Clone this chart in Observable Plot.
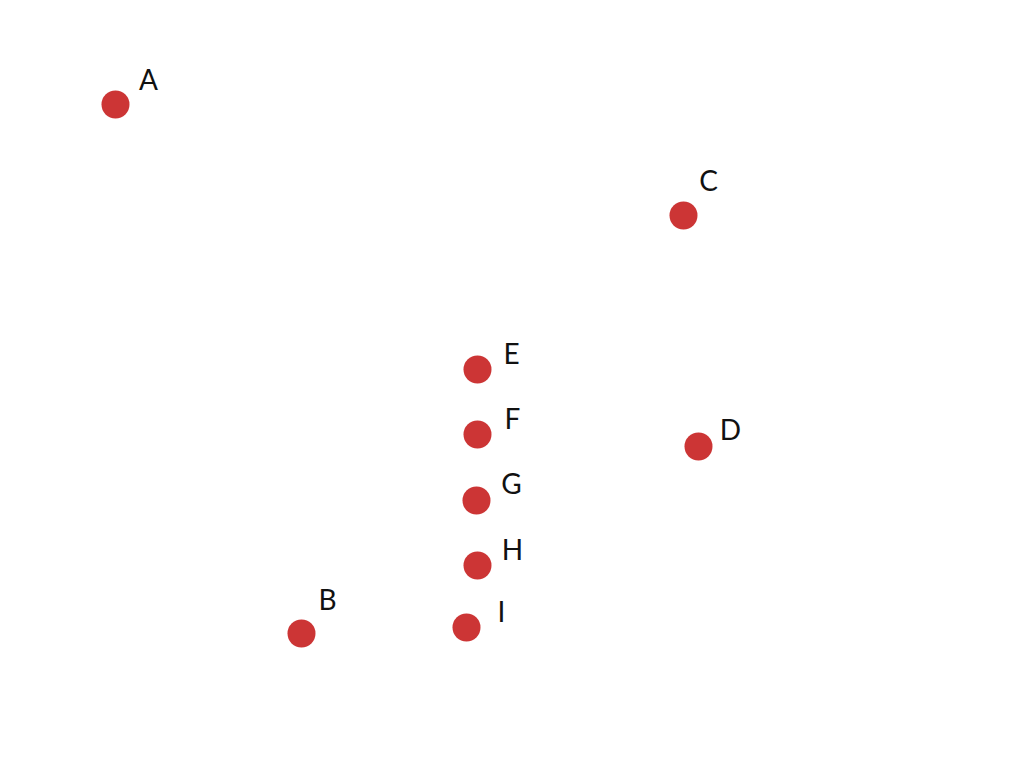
<!DOCTYPE html>
<html>
<head>
<meta charset="utf-8">
<script src="https://cdn.jsdelivr.net/npm/d3@7"></script>
<script src="https://cdn.jsdelivr.net/npm/@observablehq/plot@0.6"></script>
<style>
  html, body { margin: 0; padding: 0; background: #fff; }
  #chart { width: 1024px; height: 768px; }
</style>
</head>
<body>
<div id="chart"></div>
<script>
const labels = ["A", "B", "C", "D", "E", "F", "G", "H", "I"];
const xs = [115, 301, 683, 698, 477, 477, 476, 477, 466];
const ys = [664, 135, 553, 322, 399, 334, 268, 203, 141];
const labelXs = [148, 327, 708, 730, 511, 512, 511, 512, 501];
const labelYs = [687, 167, 586, 337, 413, 348, 283, 217, 155];

const points = labels.map((name, i) => ({name, x: xs[i], y: ys[i], lx: labelXs[i], ly: labelYs[i]}));

const chart = Plot.plot({
  width: 1024,
  height: 768,
  margin: 0,
  x: {domain: [0, 1024], axis: null},
  y: {domain: [0, 768], axis: null},
  style: {background: "#fff", fontFamily: "Lato, 'Noto Sans', sans-serif"},
  marks: [
    Plot.dot(points, {x: "x", y: "y", r: 14, fill: "#cc3535", stroke: "none"}),
    Plot.text(points, {x: "lx", y: "ly", text: "name", fontSize: 28, fontWeight: 400, fill: "#111", textAnchor: "middle", lineAnchor: "middle"})
  ]
});
document.getElementById("chart").appendChild(chart);
</script>
</body>
</html>
